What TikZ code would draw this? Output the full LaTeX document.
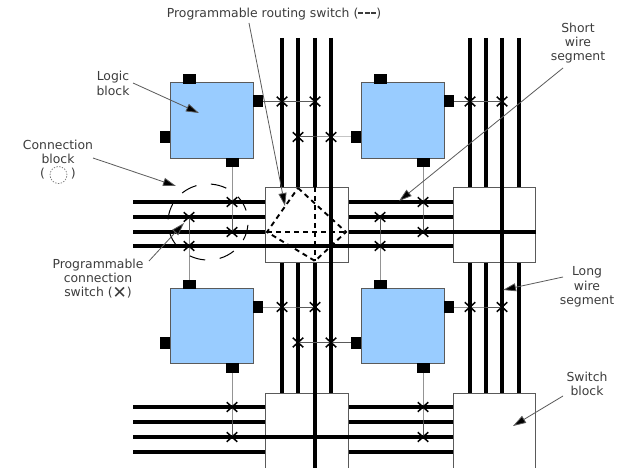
\documentclass[tikz,border=0pt]{standalone}
\usepackage{fontspec}
\setmainfont{DejaVu Sans}
\usetikzlibrary{arrows.meta,shapes.misc}
\definecolor{blockblue}{HTML}{99CCFF}
\definecolor{edgegray}{HTML}{5A5A5A}
\definecolor{labelgray}{HTML}{3C3C3C}
\tikzset{
  logicblock/.style={draw=edgegray,fill=blockblue,line width=1pt,minimum width=83pt,minimum height=75pt,inner sep=0pt},
  switchblock/.style={draw=edgegray,fill=white,line width=1pt,minimum width=82.5pt,minimum height=75pt,inner sep=0pt},
  padh/.style={fill=black,inner sep=0pt,minimum width=13pt,minimum height=9.5pt},
  padv/.style={fill=black,inner sep=0pt,minimum width=10pt,minimum height=12pt},
  wire/.style={line width=3.6pt,black},
  thinconn/.style={line width=1pt,edgegray},
  xsw/.style={cross out,draw=black,line width=1.5pt,minimum width=9pt,minimum height=8pt,inner sep=0pt},
  routedash/.style={line width=1.9pt,black,dash pattern=on 5pt off 4pt},
  ringdash/.style={line width=1pt,black,dash pattern=on 16pt off 14.6pt},
  ringkey/.style={circle,draw=labelgray!70,line width=0.7pt,dash pattern=on 1.4pt off 1.4pt,minimum size=17pt,inner sep=0pt},
  callout/.style={line width=0.8pt,draw=edgegray,-{Triangle[length=13pt,width=8pt,fill=black]}},
  lbl/.style={align=center,text=labelgray,inner sep=0pt,font=\fontsize{12.4pt}{14.3pt}\selectfont},
}
\newcommand{\lgdash}{\rule[0.25em]{5pt}{2pt}\kern1.5pt\rule[0.25em]{5pt}{2pt}\kern1.5pt\rule[0.25em]{5pt}{2pt}}
\newcommand{\lgcross}{\smash{\raisebox{-1.5pt}{\fontsize{17pt}{14pt}\selectfont ✕}}}
\begin{document}
\begin{tikzpicture}[x=1pt,y=-1pt]
\useasboundingbox (0,0) rectangle (621,468);
% switch blocks
\node[switchblock] (sb1) at (307,224.5) {};
\node[switchblock] (sb2) at (494.5,224.5) {};
\node[switchblock] (sb3) at (307,430.5) {};
\node[switchblock] (sb4) at (494.5,430.5) {};
% vertical wires
\foreach \x in {282,298,315,331} \draw[wire] (\x,38) -- (\x,38 |- sb1.north);
\foreach \x in {470,486,502,519} \draw[wire] (\x,38) -- (\x,38 |- sb2.north);
\foreach \x in {282,298,315,331} \draw[wire] (\x,262 |- sb1.south) -- (\x,262 |- sb3.north);
\foreach \x in {470,486,502,519} \draw[wire] (\x,262 |- sb2.south) -- (\x,262 |- sb4.north);
\draw[wire] (331,38 |- sb1.north) -- (331,38 |- sb1.south);
\draw[wire] (502,38 |- sb2.north) -- (502,38 |- sb2.south);
\draw[wire] (315,38 |- sb3.north) -- (315,38 |- sb3.south);
% horizontal wires
\foreach \y in {202,217,232,246} {
  \draw[wire] (133,\y) -- (sb1.west |- 0,\y);
  \draw[wire] (sb1.east |- 0,\y) -- (sb2.west |- 0,\y);
}
\foreach \y in {407,422,437,452} {
  \draw[wire] (133,\y) -- (sb3.west |- 0,\y);
  \draw[wire] (sb3.east |- 0,\y) -- (sb4.west |- 0,\y);
}
\draw[wire] (sb1.west |- 0,246) -- (sb1.east |- 0,246);
\draw[wire] (sb2.west |- 0,232) -- (sb2.east |- 0,232);
\draw[wire] (sb3.west |- 0,437) -- (sb3.east |- 0,437);
% logic blocks
\node[logicblock] (lb1) at (211.5,120.5) {};
\node[logicblock] (lb2) at (402.5,120.5) {};
\node[logicblock] (lb3) at (211.5,326) {};
\node[logicblock] (lb4) at (402.5,326) {};
% pads
\foreach \n/\cx/\cy in {1/211.5/120.5,2/402.5/120.5,3/211.5/326,4/402.5/326} {
  \node[padh] (t\n) at (\cx-22.5,\cy-41.5) {};
  \node[padh] (b\n) at (\cx+20.5,\cy+42) {};
  \node[padv] (r\n) at (\cx+46.5,\cy-19) {};
  \node[padv] (l\n) at (\cx-46.5,\cy+16.5) {};
}
% connection points
\foreach \n/\x/\y in {a/232/202,b/232/232,c/189/217,d/189/246,
  e/423/202,f/423/232,g/380/217,h/380/246,
  i/232/407,j/232/437,k/423/407,m/423/437,
  n/282/101.5,o/315/101.5,p/298/137,q/331/137,
  r/470/101.5,s/502/101.5,
  u/282/307,v/315/307,w/298/342.5,y/331/342.5,
  z/470/307,A/502/307}
  \coordinate (x\n) at (\x,\y);
% thin connectors
\draw[thinconn] (b1.south) -- (xa) -- (xb);
\draw[thinconn] (t3.north) -- (xd) -- (xc);
\draw[thinconn] (b2.south) -- (xe) -- (xf);
\draw[thinconn] (t4.north) -- (xh) -- (xg);
\draw[thinconn] (b3.south) -- (xi) -- (xj);
\draw[thinconn] (b4.south) -- (xk) -- (xm);
\draw[thinconn] (r1.east) -- (xn) -- (xo);
\draw[thinconn] (l2.west) -- (xq) -- (xp);
\draw[thinconn] (r2.east) -- (xr) -- (xs);
\draw[thinconn] (r3.east) -- (xu) -- (xv);
\draw[thinconn] (l4.west) -- (xy) -- (xw);
\draw[thinconn] (r4.east) -- (xz) -- (xA);
\foreach \n in {a,b,c,d,e,f,g,h,i,j,k,m,n,o,p,q,r,s,u,v,w,y,z,A}
  \node[xsw] (sw\n) at (x\n) {};
% programmable routing switch
\coordinate (dt) at (298,188);
\coordinate (dr) at (346,232);
\coordinate (db) at (315,261);
\coordinate (dl) at (267,232);
\coordinate (dm) at (315,187);
\draw[routedash] (dt) -- (dr) -- (db) -- (dl) -- cycle;
\draw[routedash] (dl) -- (dr);
\draw[routedash] (dm) -- (db);
% connection block ring
\coordinate (ringc) at (208,222);
\draw[ringdash] (ringc) ++(-25.7,-29.1) arc[start angle=-130,end angle=230,x radius=40,y radius=38];
% labels
\node[lbl] (tprs) at (274,14) {Programmable routing switch (\lgdash)};
\node[lbl] (tlog) at (113,83.5) {Logic\\block};
\node[lbl] (tcon) at (58,159.5) {Connection\\block\\(\hspace{26pt})};
\node[ringkey] (ringsym) at (58.5,175) {};
\node[lbl] (tpcs) at (98,278.5) {Programmable\\connection\\switch (\lgcross )};
\node[lbl] (tswg) at (578,43) {Short\\wire\\segment};
\node[lbl] (tlwg) at (587,287) {Long\\wire\\segment};
\node[lbl] (tsbk) at (587,384) {Switch\\block};
% callouts
\coordinate (cprs) at (249,23);
\coordinate (hprs) at (285,206);
\coordinate (clog) at (133,83);
\coordinate (hlog) at (199,113);
\coordinate (ccon) at (93,158);
\coordinate (hcon) at (176,186);
\coordinate (cpcs) at (149,261);
\coordinate (hpcs) at (184,223);
\coordinate (cswg) at (563,68);
\coordinate (hswg) at (399,201);
\coordinate (clwg) at (563,277);
\coordinate (hlwg) at (503,290);
\coordinate (csbk) at (563,396);
\coordinate (hsbk) at (513,426);
\foreach \n in {prs,log,con,pcs,swg,lwg,sbk} \draw[callout] (c\n) -- (h\n);
\end{tikzpicture}
\end{document}
